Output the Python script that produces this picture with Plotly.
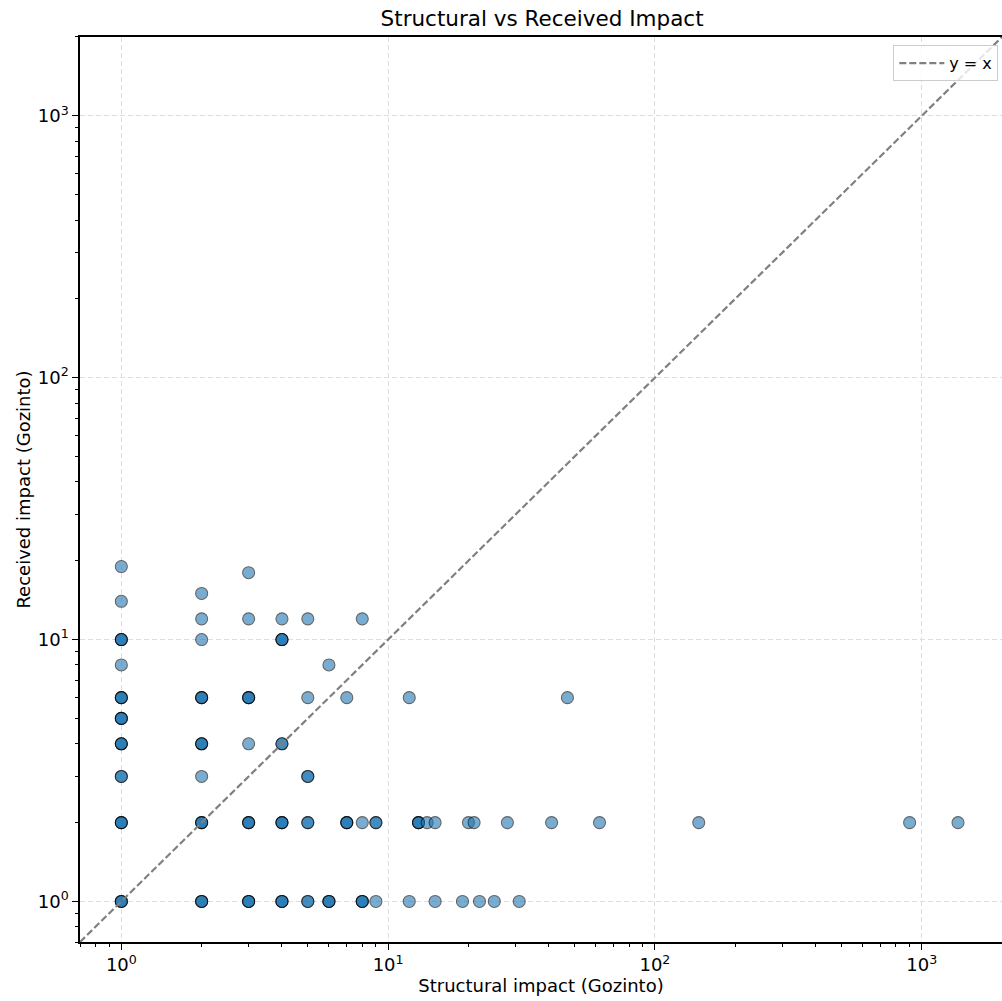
import plotly.graph_objects as go

# Data (x, y, number of overlapping points)
structural = [1, 1, 1, 1, 1, 1, 1, 1, 1, 1,
              2, 2, 2, 2, 2, 2, 2, 2,
              3, 3, 3, 3, 3, 3,
              4, 4, 4, 4, 4,
              5, 5, 5, 5, 5,
              6, 6, 7, 7, 8, 8, 8, 9, 9,
              12, 12, 13, 14, 15, 15, 19, 20, 21, 22, 25, 28, 31, 41, 47, 62, 146, 901, 1368]
received = [19, 14, 10, 8, 6, 5, 4, 3, 2, 1,
            15, 12, 10, 6, 4, 3, 2, 1,
            18, 12, 6, 4, 2, 1,
            12, 10, 4, 2, 1,
            12, 6, 3, 2, 1,
            8, 1, 6, 2, 12, 2, 1, 2, 1,
            6, 1, 2, 2, 2, 1, 1, 2, 2, 1, 1, 2, 1, 2, 6, 2, 2, 2, 2]
overlap = [1, 1, 3, 1, 3, 3, 3, 2, 3, 3,
           1, 1, 1, 3, 3, 1, 3, 3,
           1, 1, 3, 1, 3, 3,
           1, 3, 2, 3, 3,
           1, 1, 2, 2, 2,
           1, 3, 1, 3, 1, 1, 3, 2, 1,
           1, 1, 3, 1, 1, 1, 1, 1, 1, 1, 1, 1, 1, 1, 1, 1, 1, 1, 1]

diag = [0.7, 2000]
tick_vals = [1, 10, 100, 1000]
tick_text = ["10<sup>0</sup>", "10<sup>1</sup>", "10<sup>2</sup>", "10<sup>3</sup>"]

xs, ys = [], []
for x, y, c in zip(structural, received, overlap):
    xs += [x] * c
    ys += [y] * c

minor_vals = [m * 10 ** e for e in range(-1, 4) for m in range(2, 10)]

fig = go.Figure()
fig.add_trace(go.Scatter(
    x=xs, y=ys, mode="markers", showlegend=False,
    marker=dict(size=12, color="#1f77b4", opacity=0.6,
                line=dict(color="black", width=1.1)),
))
fig.add_trace(go.Scatter(
    x=diag, y=diag, mode="lines", name="y = x",
    line=dict(color="#808080", width=2.2, dash="7px,3px"),
))

font = "DejaVu Sans"
axis_common = dict(
    type="log", showline=True, linecolor="black", linewidth=1.5,
    ticks="outside", ticklen=6, tickwidth=1.4, tickcolor="black",
    tickvals=tick_vals, ticktext=tick_text,
    showgrid=True, gridcolor="#dedede", griddash="5px,3px", gridwidth=1,
    zeroline=False,
    tickfont=dict(family=font, size=18, color="black"),
    minor=dict(tickvals=minor_vals, ticks="outside", ticklen=3.5,
               tickwidth=1.1, tickcolor="black", showgrid=False),
)

fig.update_layout(
    width=1002, height=1001,
    margin=dict(l=80, r=0, t=37, b=59),
    plot_bgcolor="white", paper_bgcolor="white",
    font=dict(family=font, size=16, color="black"),
    title=dict(text="Structural vs Received Impact", x=0.541, xanchor="center",
               y=0.982, yanchor="middle", font=dict(family=font, size=21.5)),
    xaxis=dict(axis_common, range=[-0.1549, 3.301], mirror=True,
               title=dict(text="Structural impact (Gozinto)", standoff=2,
                          font=dict(family=font, size=18))),
    yaxis=dict(axis_common, range=[-0.1549, 3.301],
               title=dict(text="Received impact (Gozinto)", standoff=2,
                          font=dict(family=font, size=18))),
    legend=dict(x=0.996, y=0.991, xanchor="right", yanchor="top",
                bgcolor="rgba(255,255,255,0.8)", bordercolor="#cccccc",
                borderwidth=1, itemwidth=45, font=dict(family=font, size=16)),
)

fig.write_html("out.html")
